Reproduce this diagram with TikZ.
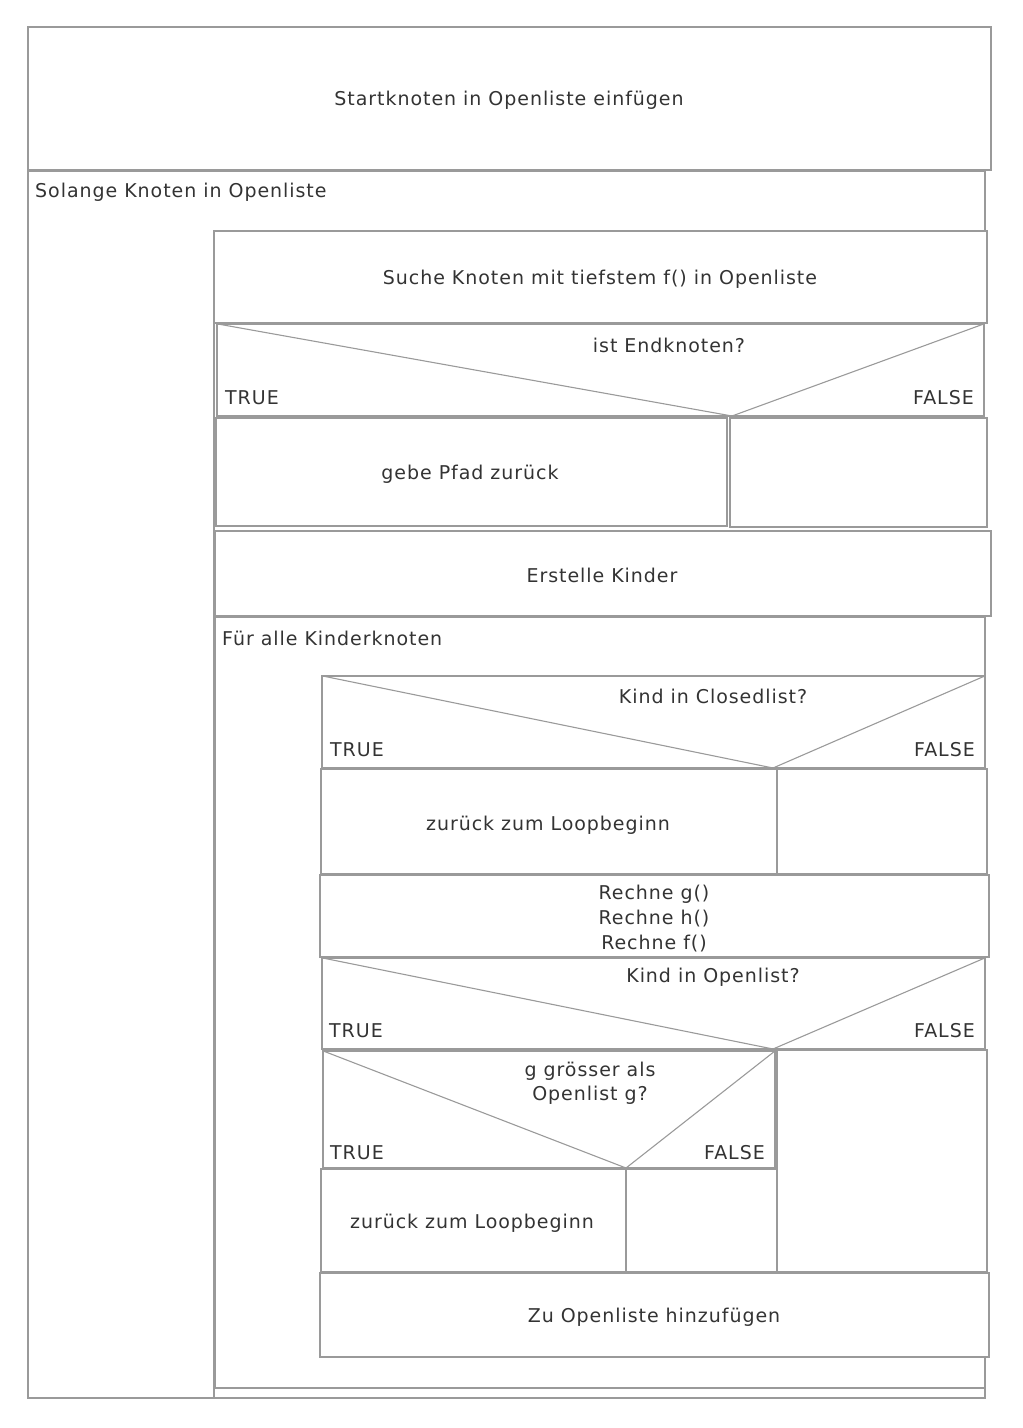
\documentclass[tikz,border=0pt]{standalone}
\usepackage{fontspec}
\setmainfont{DejaVu Sans}[LetterSpace=5]
\definecolor{ln}{HTML}{9A9A9A}
\definecolor{tx}{HTML}{333333}
\begin{document}
\begin{tikzpicture}[x=1pt,y=-1pt,
  ns/.style={draw=ln,line width=1.7pt,inner sep=0pt},
  txt/.style={text=tx,inner sep=0pt,font=\fontsize{19}{25}\selectfont,align=center,yshift=-2pt},
  lbl/.style={text=tx,inner sep=0pt,font=\fontsize{19}{24}\selectfont,yshift=-2pt},
  edge/.style={draw=ln,line width=1.7pt},
  diag/.style={draw=ln,line width=1.1pt}]
\useasboundingbox (0,0) rectangle (1023,1428);
\newcommand{\nsbox}[5]{\path[ns] (#2,#3) rectangle (#4,#5); \node[inner sep=0pt,minimum width=#4pt-#2pt,minimum height=#5pt-#3pt] (#1) at ({(#2+#4)/2},{(#3+#5)/2}) {};}
% start
\nsbox{start}{28}{27}{991}{170}
\node[txt] (starttxt) at (509,98) {Startknoten in Openliste einfügen};
% outer loop
\coordinate (o1) at (28,171);
\coordinate (o2) at (985,171);
\coordinate (o3) at (985,231);
\coordinate (o4) at (28,1398);
\coordinate (o5) at (985,1398);
\coordinate (o6) at (985,1388);
\coordinate (o7) at (214,231);
\coordinate (o8) at (214,1398);
\draw[edge] (o3) -- (o2) -- (o1) -- (o4) -- (o5) -- (o6);
\draw[edge] (o7) -- (o8);
\node[lbl,anchor=west] (outerlbl) at (35,190) {Solange Knoten in Openliste};
% suche
\nsbox{suche}{214}{231}{987}{323}
\node[txt] (suchetxt) at (600,277) {Suche Knoten mit tiefstem f() in Openliste};
% decision 1
\nsbox{d1}{217}{324}{984}{416}
\coordinate (a1) at (732,416);
\draw[diag] (d1.north west) -- (a1) -- (d1.north east);
\node[lbl] (d1q) at (669,343) {ist Endknoten?};
\node[lbl,anchor=west] (d1t) at (225,396) {TRUE};
\node[lbl,anchor=east] (d1f) at (974,396) {FALSE};
% branches
\nsbox{gebe}{216}{418}{727}{526}
\node[txt] (gebetxt) at (470,472) {gebe Pfad zurück};
\nsbox{d1e}{730}{418}{987}{527}
% erstelle
\nsbox{erst}{215}{531}{991}{616}
\node[txt] (ersttxt) at (602,573) {Erstelle Kinder};
% inner loop
\coordinate (i1) at (215,617);
\coordinate (i2) at (985,617);
\coordinate (i3) at (985,676);
\coordinate (i4) at (215,1388);
\coordinate (i5) at (985,1388);
\coordinate (i6) at (985,1357);
\draw[edge] (i3) -- (i2) -- (i1) -- (i4) -- (i5) -- (i6);
\node[lbl,anchor=west] (innerlbl) at (222,636) {Für alle Kinderknoten};
% decision 2
\nsbox{d2}{322}{676}{985}{768}
\coordinate (a2) at (773,768);
\draw[diag] (d2.north west) -- (a2) -- (d2.north east);
\node[lbl] (d2q) at (713,694) {Kind in Closedlist?};
\node[lbl,anchor=west] (d2t) at (330,748) {TRUE};
\node[lbl,anchor=east] (d2f) at (975,748) {FALSE};
\nsbox{z1}{321}{769}{777}{874}
\node[txt] (z1txt) at (548,823) {zurück zum Loopbeginn};
\nsbox{d2e}{777}{769}{987}{874}
% rechne
\nsbox{rech}{320}{875}{989}{957}
\node[txt] (rechtxt) at (654,917) {Rechne g()\\Rechne h()\\Rechne f()};
% decision 3
\nsbox{d3}{322}{958}{985}{1049}
\coordinate (a3) at (773,1049);
\draw[diag] (d3.north west) -- (a3) -- (d3.north east);
\node[lbl] (d3q) at (713,975) {Kind in Openlist?};
\node[lbl,anchor=west] (d3t) at (329,1029) {TRUE};
\node[lbl,anchor=east] (d3f) at (975,1029) {FALSE};
% decision 4
\nsbox{d4}{323}{1051}{775}{1168}
\coordinate (a4) at (626,1168);
\draw[diag] (d4.north west) -- (a4) -- (d4.north east);
\node[lbl,align=center] (d4q) at (590,1081) {g grösser als\\Openlist g?};
\node[lbl,anchor=west] (d4t) at (330,1151) {TRUE};
\node[lbl,anchor=east] (d4f) at (765,1151) {FALSE};
\nsbox{z2}{321}{1169}{626}{1272}
\node[txt] (z2txt) at (472,1221) {zurück zum Loopbeginn};
\nsbox{d4e}{626}{1169}{777}{1272}
\nsbox{d3e}{777}{1050}{987}{1272}
% zu openliste
\nsbox{zu}{320}{1273}{989}{1357}
\node[txt] (zutxt) at (654,1315) {Zu Openliste hinzufügen};
\end{tikzpicture}
\end{document}
